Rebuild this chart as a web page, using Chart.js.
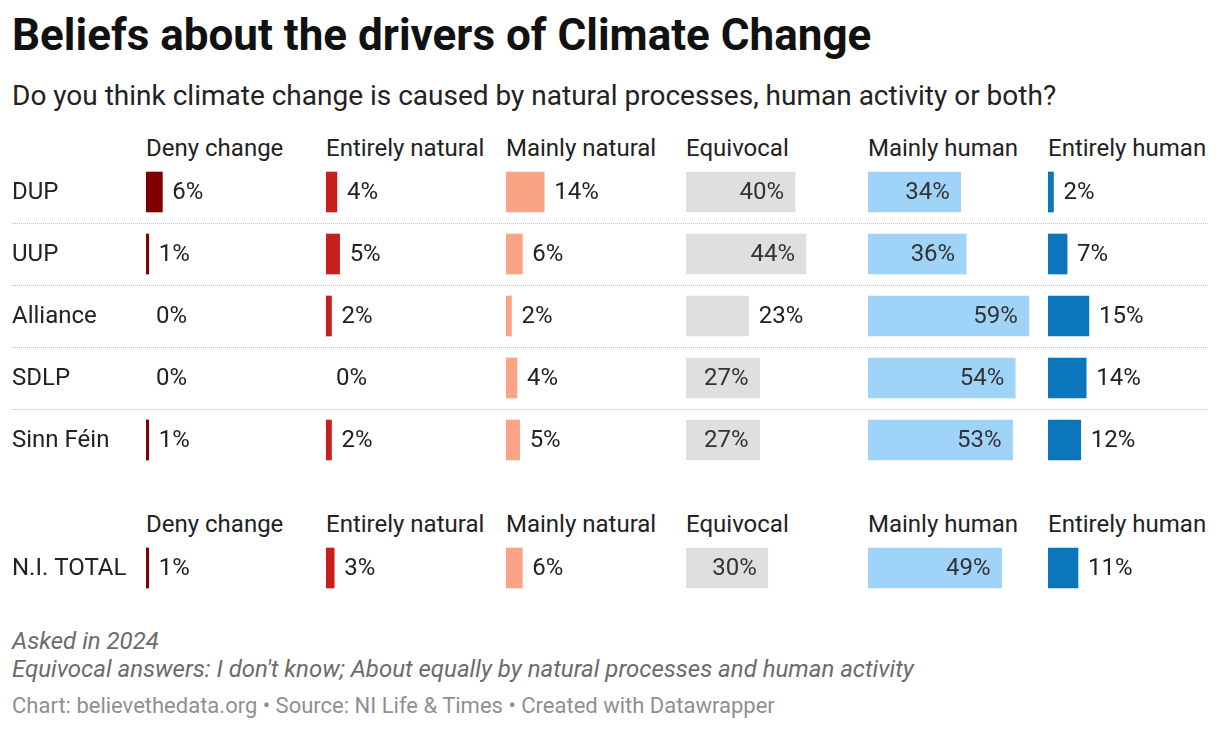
<!DOCTYPE html>
<html>
<head>
<meta charset="utf-8">
<title>Beliefs about the drivers of Climate Change</title>
<script src="https://cdn.jsdelivr.net/npm/chart.js@4/dist/chart.umd.min.js"></script>
<style>
  html, body { margin: 0; padding: 0; background: #fff; }
  body { width: 1220px; height: 730px; overflow: hidden; position: relative; font-family: Roboto, "Noto Sans", sans-serif; }
  .txt { position: absolute; white-space: nowrap; line-height: 1; }
  .sep { position: absolute; left: 12px; width: 1196px; height: 0; border-top: 1px dotted #c4c4c4; }
  canvas { position: absolute; }
</style>
</head>
<body>
<script>
// data
const parties = ["DUP", "UUP", "Alliance", "SDLP", "Sinn Féin"];
const answers = ["Deny change", "Entirely natural", "Mainly natural", "Equivocal", "Mainly human", "Entirely human"];
const denyChange = [6, 1, 0, 0, 1];
const entirelyNatural = [4, 5, 2, 0, 2];
const mainlyNatural = [14, 6, 2, 4, 5];
const equivocal = [40, 44, 23, 27, 27];
const mainlyHuman = [34, 36, 59, 54, 53];
const entirelyHuman = [2, 7, 15, 14, 12];
const totalLabel = ["N.I. TOTAL"];
const niTotal = [1, 3, 6, 30, 49, 11];

const columns = [denyChange, entirelyNatural, mainlyNatural, equivocal, mainlyHuman, entirelyHuman];
const colors = ["#800000", "#c71f1e", "#fba387", "#dfdfdf", "#a0d3f8", "#0b76bc"];

// layout
const colLeft = [146, 326, 506, 686, 868, 1048];
const colWidth = 180;
const xMax = 66;
const rowH = 62;
const labelW = 134;
const fontSize = 24;

function place(text, x, baseline, size, style) {
  var d = document.createElement("div");
  d.className = "txt";
  d.textContent = text;
  d.style.left = x + "px";
  d.style.top = (baseline - 0.8415 * size) + "px";
  d.style.fontSize = size + "px";
  for (var k in style) d.style[k] = style[k];
  document.body.appendChild(d);
  return d;
}

function sep(y) {
  var d = document.createElement("div");
  d.className = "sep";
  d.style.top = y + "px";
  document.body.appendChild(d);
}

// value labels: inside the bar when it fits, otherwise just after it.
// the first column also gets the row names on its left
const valueLabels = {
  id: "valueLabels",
  afterDatasetsDraw: function (chart, args, opts) {
    var ctx = chart.ctx;
    var ds = chart.data.datasets[0];
    var meta = chart.getDatasetMeta(0);
    ctx.save();
    ctx.font = fontSize + "px Roboto";
    ctx.textBaseline = "middle";
    meta.data.forEach(function (bar, i) {
      var t = ds.data[i] + "%";
      var w = ctx.measureText(t).width;
      var bw = bar.x - bar.base;
      if (bw >= w + 20) {
        ctx.textAlign = "right";
        ctx.fillStyle = "#333";
        ctx.fillText(t, bar.x - 11, bar.y + 1);
      } else {
        ctx.textAlign = "left";
        ctx.fillStyle = "#222";
        ctx.fillText(t, bar.x + 10, bar.y + 1);
      }
      if (opts.rowNames) {
        ctx.textAlign = "left";
        ctx.fillStyle = "#222";
        ctx.fillText(chart.data.labels[i], chart.chartArea.left - labelW, chart.scales.y.getPixelForValue(i) + 1);
      }
    });
    ctx.restore();
  }
};

function makeChart(labels, values, color, left, top, withLabels) {
  var c = document.createElement("canvas");
  var w = withLabels ? colWidth + labelW : colWidth;
  var h = labels.length * rowH;
  c.style.left = (withLabels ? left - labelW : left) + "px";
  c.style.top = top + "px";
  c.style.width = w + "px";
  c.style.height = h + "px";
  c.width = w;
  c.height = h;
  document.body.appendChild(c);
  return new Chart(c, {
    type: "bar",
    data: {
      labels: labels,
      datasets: [{
        data: values,
        backgroundColor: function (ctx) { return ctx.raw === 0 ? "rgba(0,0,0,0)" : color; },
        barThickness: 40,
        borderWidth: 0
      }]
    },
    options: {
      indexAxis: "y",
      responsive: false,
      animation: false,
      layout: { padding: { left: withLabels ? labelW : 0, right: 0, top: 0, bottom: 0 } },
      plugins: {
        legend: { display: false },
        tooltip: { enabled: false },
        valueLabels: { rowNames: withLabels }
      },
      scales: {
        x: { display: false, min: 0, max: xMax },
        y: { display: false }
      }
    },
    plugins: [valueLabels]
  });
}

function draw() {
  place("Beliefs about the drivers of Climate Change", 12, 50, 44, { fontWeight: "700", color: "#111" });
  place("Do you think climate change is caused by natural processes, human activity or both?", 12, 106, 28, { color: "#222" });

  answers.forEach(function (a, i) {
    place(a, colLeft[i], 156, fontSize, { color: "#222" });
    place(a, colLeft[i], 532, fontSize, { color: "#222" });
  });

  for (var r = 1; r < parties.length; r++) sep(161 + r * rowH);

  columns.forEach(function (col, i) {
    makeChart(parties, col, colors[i], colLeft[i], 161, i === 0);
    makeChart(totalLabel, [niTotal[i]], colors[i], colLeft[i], 537, i === 0);
  });

  place("Asked in 2024", 12, 649, 24, { fontStyle: "italic", color: "#6b6b6b" });
  place("Equivocal answers: I don't know; About equally by natural processes and human activity", 12, 677, 24, { fontStyle: "italic", color: "#6b6b6b" });
  place("Chart: believethedata.org • Source: NI Life & Times • Created with Datawrapper", 12, 714, 22, { color: "#8f8f8f" });
}

if (document.fonts && document.fonts.load) {
  Promise.all([document.fonts.load("24px Roboto"), document.fonts.load("bold 44px Roboto"), document.fonts.load("italic 24px Roboto")])
    .then(draw, draw);
} else {
  draw();
}
</script>
</body>
</html>
